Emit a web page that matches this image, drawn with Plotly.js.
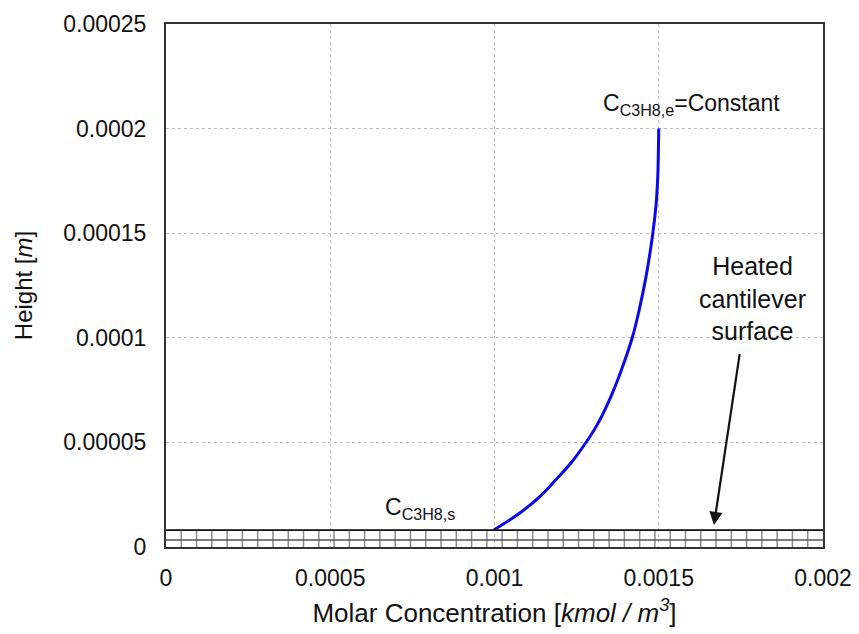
<!DOCTYPE html>
<html>
<head>
<meta charset="utf-8">
<script src="https://cdn.plot.ly/plotly-3.0.1.min.js"></script>
<style>html,body{margin:0;padding:0;background:#fff;}#chart{width:859px;height:634px;}</style>
</head>
<body>
<div id="chart"></div>
<script>
// Concentration profile
const concentration = [0.000998, 0.001076, 0.001137, 0.001186, 0.001232, 0.00128, 0.001315, 0.001354, 0.001386, 0.00142, 0.00144, 0.001461, 0.001482, 0.001492, 0.001497, 0.001499, 0.0015];
const height = [0.0000081, 0.0000161, 0.000024, 0.000032, 0.00004, 0.0000503, 0.0000591, 0.0000718, 0.0000845, 0.0001004, 0.000113, 0.000129, 0.00015, 0.000164, 0.000177, 0.00019, 0.0002];
const xTicks = [0, 0.0005, 0.001, 0.0015, 0.002];
const xTickLabels = ["0", "0.0005", "0.001", "0.0015", "0.002"];
const yTicks = [0, 0.00005, 0.0001, 0.00015, 0.0002, 0.00025];
const yTickLabels = ["0", "0.00005", "0.0001", "0.00015", "0.0002", "0.00025"];
// Cantilever surface strip
const cantileverTop = 0.0000081;
const cantileverMid = 0.0000033;
const cantileverCells = 43;

const xMax = 0.002;
const shapes = [];
for (let i = 1; i < cantileverCells; i++) {
  const xv = xMax * i / cantileverCells;
  shapes.push({type:'line', xref:'x', yref:'y', x0:xv, x1:xv, y0:0, y1:cantileverTop, line:{color:'#8c8c8c', width:1.5}, layer:'above'});
}
shapes.push({type:'line', xref:'x', yref:'y', x0:0, x1:xMax, y0:cantileverMid, y1:cantileverMid, line:{color:'#555', width:1.5}, layer:'above'});
shapes.push({type:'line', xref:'x', yref:'y', x0:0, x1:xMax, y0:cantileverTop, y1:cantileverTop, line:{color:'#111', width:1.8}, layer:'above'});

const trace = {
  x: concentration, y: height, type:'scatter', mode:'lines',
  line:{color:'#0a0ae6', width:3, shape:'spline', smoothing:1},
  hoverinfo:'skip', showlegend:false
};

const font = 'Liberation Sans, Arial, sans-serif';
const layout = {
  width:859, height:634,
  margin:{l:166, r:36, t:24, b:87},
  paper_bgcolor:'#fff', plot_bgcolor:'#fff',
  font:{family:font, color:'#111', size:23},
  showlegend:false,
  xaxis:{
    range:[0, 0.002], tickvals:xTicks, ticktext:xTickLabels,
    showgrid:true, gridcolor:'#bdbdbd', griddash:'dot', gridwidth:1.2,
    zeroline:false, showline:true, linecolor:'#333', linewidth:2, mirror:true,
    ticks:'', ticklabelstandoff:9,
    tickfont:{family:font, size:23, color:'#111'},
    title:{text:'Molar Concentration [<i>kmol / m<sup>3</sup></i>]', font:{family:font, size:26, color:'#111'}, standoff:14}
  },
  yaxis:{
    range:[0, 0.00025], tickvals:yTicks, ticktext:yTickLabels,
    showgrid:true, gridcolor:'#bdbdbd', griddash:'dot', gridwidth:1.2,
    zeroline:false, showline:true, linecolor:'#333', linewidth:2, mirror:true,
    ticks:'', ticklabelstandoff:13,
    tickfont:{family:font, size:23, color:'#111'},
    title:{text:'Height [<i>m</i>]', font:{family:font, size:24, color:'#111'}, standoff:24}
  },
  shapes: shapes,
  annotations:[
    {x:0.0016, y:0.0002115, xref:'x', yref:'y', text:'C<sub>C3H8,e</sub>=Constant', showarrow:false, font:{family:font, size:23, color:'#111'}},
    {x:0.000774, y:0.0000186, xref:'x', yref:'y', text:'C<sub>C3H8,s</sub>', showarrow:false, font:{family:font, size:23, color:'#111'}},
    {x:0.001785, y:0.0001189, xref:'x', yref:'y', text:'Heated<br>cantilever<br>surface', showarrow:false, font:{family:font, size:25, color:'#111'}},
    {x:0.001668, y:0.0000105, xref:'x', yref:'y', ax:0.001747, ay:0.0000929, axref:'x', ayref:'y', text:'', showarrow:true, arrowhead:2, arrowsize:1.2, arrowwidth:2.2, arrowcolor:'#111', standoff:0}
  ]
};
Plotly.newPlot('chart', [trace], layout, {displayModeBar:false, staticPlot:true});
</script>
</body>
</html>
